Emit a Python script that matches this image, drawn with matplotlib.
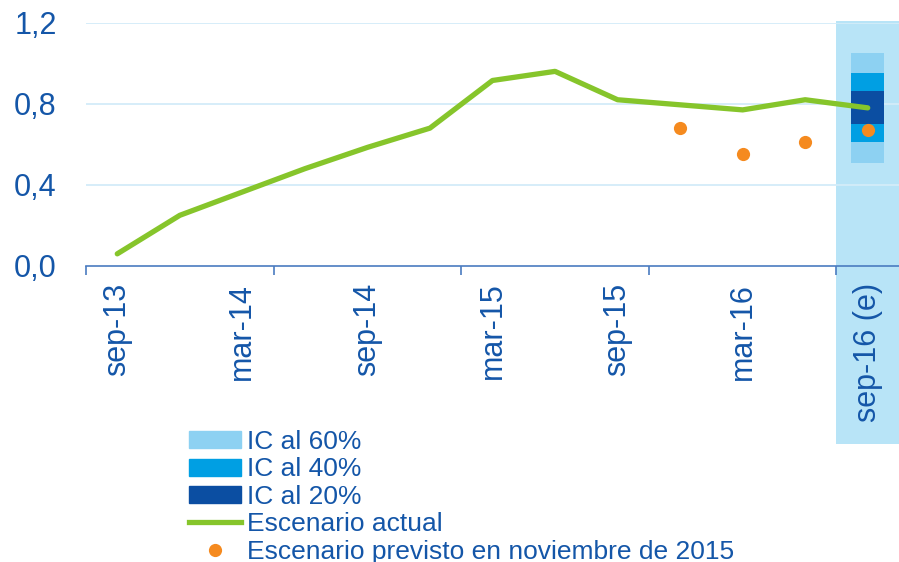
import matplotlib
matplotlib.use('Agg')
import matplotlib.pyplot as plt
from matplotlib.patches import Rectangle, Patch
from matplotlib.lines import Line2D
from matplotlib.transforms import blended_transform_factory

plt.rcParams['font.family'] = ['Liberation Sans', 'DejaVu Sans']

quarters = ['sep-13', 'dec-13', 'mar-14', 'jun-14', 'sep-14', 'dec-14', 'mar-15',
            'jun-15', 'sep-15', 'dec-15', 'mar-16', 'jun-16', 'sep-16 (e)']
actual = [0.06, 0.25, 0.365, 0.48, 0.585, 0.68, 0.915, 0.96, 0.82, 0.795, 0.77, 0.82, 0.78]
prev_idx = [9, 10, 11, 12]
previsto = [0.68, 0.55, 0.61, 0.67]
# fan chart at the last quarter: (low, high)
ic60 = (0.51, 1.05)
ic40 = (0.61, 0.95)
ic20 = (0.70, 0.865)
yticks = [0.0, 0.4, 0.8, 1.2]
ytick_labels = ['0,0', '0,4', '0,8', '1,2']

txt = '#1456a8'
green = '#86c52b'
orange = '#f58a1f'
band = '#b8e4f7'
c60 = '#8dd1f2'
c40 = '#009fe3'
c20 = '#0b4ea2'

fig = plt.figure(figsize=(8.99, 5.62), dpi=100)
ax = fig.add_axes([86/899, 1-266/562, 1-86/899, (266-22.7)/562])

x = list(range(len(quarters)))
ax.set_xlim(-0.5, len(quarters) - 0.5)
ax.set_ylim(0, 1.2)

# highlighted forecast column (goes down past the axis, behind the tick label)
tr = blended_transform_factory(ax.transData, fig.transFigure)
ax.add_patch(Rectangle((11.5, 1-444/562), 1.0, (444-20.7)/562, transform=tr,
                       facecolor=band, edgecolor='none', zorder=0, clip_on=False))

for yv in yticks[1:]:
    ax.axhline(yv, color='#d3ecf9', lw=1.3, zorder=1)

w = 0.52
last = x[-1]
ax.bar(last, ic60[1]-ic60[0], bottom=ic60[0], width=w, color=c60, zorder=2)
ax.bar(last, ic40[1]-ic40[0], bottom=ic40[0], width=w, color=c40, zorder=3)
ax.bar(last, ic20[1]-ic20[0], bottom=ic20[0], width=w, color=c20, zorder=4)

ax.plot(x, actual, color=green, lw=3.8, solid_capstyle='round', zorder=5)
ax.plot(prev_idx, previsto, 'o', color=orange, markersize=9.5, markeredgewidth=0, zorder=6)

for s in ['top', 'right', 'left']:
    ax.spines[s].set_visible(False)
ax.spines['bottom'].set_color('#4a7cc0')
ax.spines['bottom'].set_linewidth(1.2)
ax.spines['bottom'].set_zorder(7)

ax.set_yticks(yticks)
ax.set_yticklabels(ytick_labels, color=txt, fontsize=22)
ax.tick_params(axis='y', length=0, pad=21)

ax.set_xticks([i - 0.5 for i in range(0, len(quarters), 3)])
ax.set_xticklabels([])
ax.tick_params(axis='x', which='major', length=6.5, width=1.2, color='#4a7cc0', direction='out')
ax.set_xticks(x[::2], minor=True)
ax.set_xticklabels(quarters[::2], minor=True, rotation=90, color=txt, fontsize=22, va='top')
ax.tick_params(axis='x', which='minor', length=0, pad=12)

handles = [Patch(color=c60), Patch(color=c40), Patch(color=c20),
           Line2D([], [], color=green, lw=3.8),
           Line2D([], [], marker='o', color=orange, lw=0, markersize=9.5, markeredgewidth=0)]
labels = ['IC al 60%', 'IC al 40%', 'IC al 20%', 'Escenario actual',
          'Escenario previsto en noviembre de 2015']
leg = fig.legend(handles, labels, loc='upper left', bbox_to_anchor=(189/899, 1-430/562),
                 frameon=False, fontsize=19, labelspacing=0.13, handlelength=1.97,
                 handleheight=0.6, handletextpad=0.23, borderpad=0, borderaxespad=0)
for t in leg.get_texts():
    t.set_color(txt)

fig.savefig('out.png', dpi=100)
